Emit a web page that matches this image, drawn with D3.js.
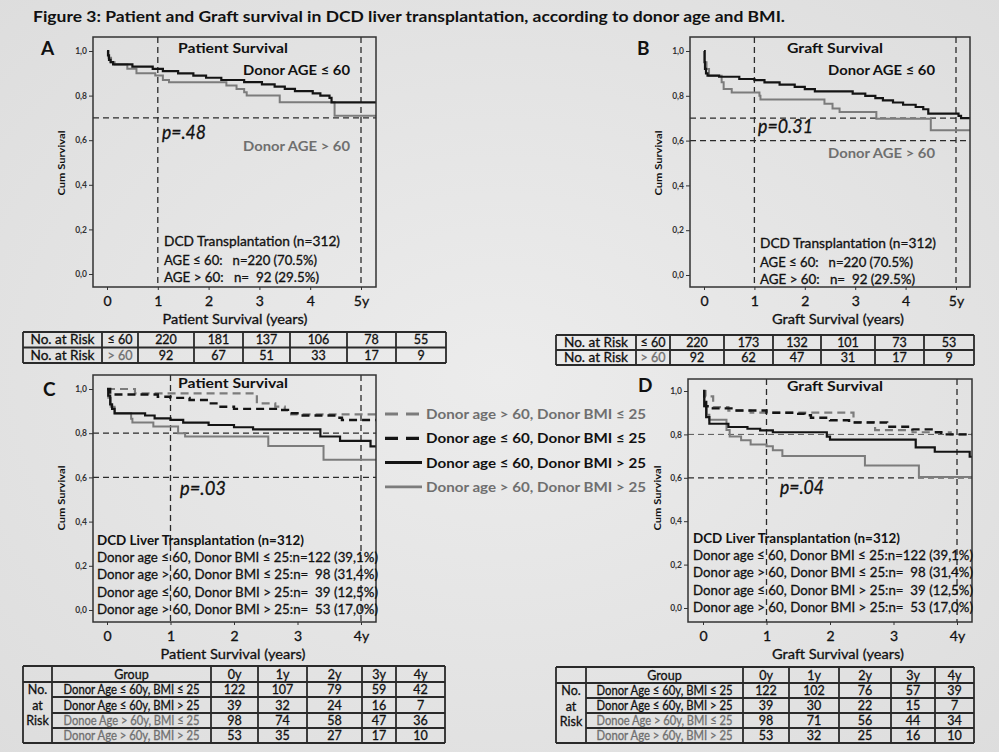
<!DOCTYPE html>
<html>
<head>
<meta charset="utf-8">
<script src="https://cdn.jsdelivr.net/npm/d3@7"></script>
<style>
  body { margin: 0; background: #e4e4e4; }
  svg { display: block; font-family: Lato, "Open Sans", sans-serif; }
</style>
</head>
<body>
<div id="chart"></div>
<script>
// ---- Data ----
// Kaplan-Meier steps: [years, cumulative survival]
const patientAgeLe60 = [[0,1],[0.02,0.98],[0.04,0.96],[0.07,0.95],[0.12,0.94],[0.5,0.93],[0.9,0.92],[1.1,0.91],[1.4,0.90],[1.7,0.89],[1.95,0.88],[2.25,0.87],[2.7,0.86],[3.05,0.85],[3.3,0.84],[3.5,0.83],[3.7,0.82],[4.05,0.81],[4.2,0.80],[4.38,0.79],[4.42,0.77]];
const patientAgeGt60 = [[0,1],[0.03,0.97],[0.08,0.95],[0.15,0.94],[0.4,0.92],[0.58,0.90],[0.95,0.89],[1.1,0.87],[1.22,0.86],[2.35,0.845],[2.55,0.83],[2.7,0.815],[2.75,0.80],[3.4,0.77],[4.48,0.71]];
const graftAgeLe60 = [[0,1],[0.01,0.95],[0.02,0.92],[0.04,0.90],[0.07,0.89],[0.3,0.885],[0.7,0.875],[1.0,0.87],[1.2,0.86],[1.5,0.85],[1.8,0.84],[2.0,0.83],[2.2,0.82],[2.95,0.81],[3.2,0.80],[3.4,0.79],[3.55,0.78],[3.75,0.77],[3.95,0.76],[4.2,0.75],[4.35,0.74],[4.45,0.72],[5.05,0.71],[5.1,0.70]];
const graftAgeGt60 = [[0,1],[0.02,0.95],[0.05,0.92],[0.1,0.89],[0.35,0.86],[0.39,0.83],[0.55,0.815],[1.1,0.80],[1.12,0.783],[2.39,0.765],[2.55,0.743],[2.69,0.728],[3.42,0.698],[4.5,0.646]];

const patLe60Bmi25 = [[0,1],[0.05,0.975],[0.8,0.965],[1.0,0.96],[1.3,0.95],[1.6,0.935],[1.75,0.92],[2.0,0.91],[2.7,0.905],[2.85,0.89],[3.0,0.88],[3.6,0.87],[3.7,0.86]];
const patGt60Bmi25 = [[0,1],[0.44,0.98],[2.36,0.935],[2.65,0.92],[2.8,0.905],[2.9,0.885]];
const patLe60BmiGt25 = [[0,1],[0.02,0.97],[0.05,0.93],[0.08,0.91],[0.12,0.89],[0.6,0.88],[0.75,0.867],[1.0,0.86],[1.2,0.848],[1.6,0.837],[2.0,0.827],[2.3,0.817],[3.36,0.785],[3.67,0.765],[4.15,0.74]];
const patGt60BmiGt25 = [[0,1],[0.02,0.96],[0.06,0.92],[0.12,0.89],[0.38,0.865],[0.4,0.848],[0.73,0.83],[1.12,0.80],[1.23,0.785],[2.54,0.742],[3.41,0.68]];

const grfLe60Bmi25 = [[0,1],[0.02,0.95],[0.05,0.93],[0.1,0.92],[0.5,0.91],[1.0,0.90],[1.5,0.895],[1.6,0.888],[1.7,0.877],[2.0,0.865],[2.3,0.855],[2.9,0.835],[3.3,0.823],[3.6,0.81],[3.75,0.80]];
const grfGt60Bmi25 = [[0,1],[0.04,0.975],[0.16,0.926],[0.4,0.91],[0.75,0.90],[2.37,0.857],[2.71,0.82],[3.3,0.81],[3.9,0.80]];
const grfLe60BmiGt25 = [[0,1],[0.02,0.93],[0.05,0.88],[0.1,0.849],[0.4,0.834],[0.7,0.826],[0.9,0.819],[1.1,0.81],[1.95,0.79],[2.0,0.776],[3.35,0.74],[3.65,0.72],[4.2,0.697]];
const grfGt60BmiGt25 = [[0,1],[0.02,0.93],[0.06,0.89],[0.1,0.868],[0.37,0.82],[0.42,0.79],[0.6,0.773],[0.75,0.754],[1.0,0.745],[1.1,0.727],[1.25,0.70],[2.55,0.657],[3.4,0.604]];

const yTicks = [0, 0.2, 0.4, 0.6, 0.8, 1.0];
const xTicks5 = [0, 1, 2, 3, 4, 5];
const xLabels5 = ["0", "1", "2", "3", "4", "5y"];
const xTicks4 = [0, 1, 2, 3, 4];
const xLabels4 = ["0", "1", "2", "3", "4y"];

// numbers at risk
const riskYears = ["0y", "1y", "2y", "3y", "4y"];
const patientRiskLe60 = [220, 181, 137, 106, 78, 55];
const patientRiskGt60 = [92, 67, 51, 33, 17, 9];
const graftRiskLe60 = [220, 173, 132, 101, 73, 53];
const graftRiskGt60 = [92, 62, 47, 31, 17, 9];

const groupNames = ["Donor Age \u2264 60y, BMI \u2264 25", "Donor Age \u2264 60y, BMI > 25", "Donoe Age > 60y, BMI \u2264 25", "Donor Age > 60y, BMI > 25"];
const patientRiskGroups = [[122, 107, 79, 59, 42], [39, 32, 24, 16, 7], [98, 74, 58, 47, 36], [53, 35, 27, 17, 10]];
const graftRiskGroups = [[122, 102, 76, 57, 39], [39, 30, 22, 15, 7], [98, 71, 56, 44, 34], [53, 32, 25, 16, 10]];

const legendLabels = ["Donor age > 60, Donor BMI \u2264 25", "Donor age \u2264 60, Donor BMI \u2264 25", "Donor age \u2264 60, Donor BMI > 25", "Donor age > 60, Donor BMI > 25"];
const cohortLines = ["Donor age \u2264 60, Donor BMI \u2264 25:n=122 (39,1%)", "Donor age > 60, Donor BMI \u2264 25:n=  98 (31,4%)", "Donor age \u2264 60, Donor BMI > 25:n=  39 (12,5%)", "Donor age > 60, Donor BMI > 25:n=  53 (17,0%)"];

// ---- Styles ----
const INK = "#111", GREY = "#6f6f6f";
const st = {
  black: { stroke: "#141414", width: 2.2 },
  gray: { stroke: "#7c7c7c", width: 2 },
  grayDash: { stroke: "#7c7c7c", width: 2.2, dash: "8,5" },
  blackDash: { stroke: "#141414", width: 2.4, dash: "8,5" }
};

const W = 999, H = 752;
const svg = d3.select("#chart").append("svg").attr("width", W).attr("height", H);
const defs = svg.append("defs");
const grad = defs.append("radialGradient").attr("id", "bg").attr("cx", "50%").attr("cy", "50%").attr("r", "72%");
grad.append("stop").attr("offset", "0%").attr("stop-color", "#ececec");
grad.append("stop").attr("offset", "100%").attr("stop-color", "#dddddd");
svg.append("rect").attr("width", W).attr("height", H).attr("fill", "url(#bg)");

function addText(g, o) {
  const fill = o.fill || INK;
  const t = g.append("text")
    .attr("x", o.x).attr("y", o.y)
    .attr("font-size", o.size || 13)
    .attr("font-weight", o.bold ? "bold" : null)
    .attr("font-style", o.italic ? "italic" : null)
    .attr("fill", fill)
    .style("white-space", "pre")
    .text(o.t);
  // regular text in the scan looks heavier than Lato regular
  if (!o.bold) t.attr("stroke", fill).attr("stroke-width", 0.3);
  if (o.anchor) t.attr("text-anchor", o.anchor);
  if (o.w) t.attr("textLength", o.w).attr("lengthAdjust", "spacingAndGlyphs");
  return t;
}

// title
addText(svg, { t: "Figure 3: Patient and Graft survival in DCD liver transplantation, according to donor age and BMI.", x: 33, y: 22, size: 15, bold: true, w: 752 });

function drawPanel(p) {
  const g = svg.append("g");
  const f = p.frame;
  const x = d3.scaleLinear().domain(p.xDomain).range(p.xRange);
  const y = d3.scaleLinear().domain([0, 1]).range(p.yRange);
  const clipId = "clip" + p.id;
  defs.append("clipPath").attr("id", clipId).append("rect")
    .attr("x", f.x0).attr("y", f.y0).attr("width", f.x1 - f.x0).attr("height", f.y1 - f.y0);
  const inner = g.append("g").attr("clip-path", `url(#${clipId})`);

  // reference lines
  p.hRefs.forEach(r => {
    inner.append("line")
      .attr("x1", f.x0).attr("x2", f.x1).attr("y1", y(r.v)).attr("y2", y(r.v))
      .attr("stroke", r.c || "#2b2b2b").attr("stroke-width", r.w || 1.3)
      .attr("stroke-dasharray", "6,4");
  });
  p.vRefs.forEach(v => {
    inner.append("line")
      .attr("x1", x(v)).attr("x2", x(v)).attr("y1", f.y0).attr("y2", f.y1)
      .attr("stroke", "#2b2b2b").attr("stroke-width", 1.3)
      .attr("stroke-dasharray", "6,4");
  });

  // survival curves
  const xEnd = x.invert(f.x1 + 2);
  const line = d3.line().x(d => x(d[0])).y(d => y(d[1])).curve(d3.curveStepAfter);
  p.series.forEach(s => {
    const pts = s.data.concat([[xEnd, s.data[s.data.length - 1][1]]]);
    inner.append("path")
      .attr("d", line(pts))
      .attr("fill", "none")
      .attr("stroke", s.style.stroke)
      .attr("stroke-width", s.style.width)
      .attr("stroke-dasharray", s.style.dash || null);
  });

  // frame
  g.append("rect")
    .attr("x", f.x0).attr("y", f.y0).attr("width", f.x1 - f.x0).attr("height", f.y1 - f.y0)
    .attr("fill", "none").attr("stroke", "#333").attr("stroke-width", 1.5);

  // y axis
  const ya = g.append("g").attr("transform", `translate(${f.x0},0)`)
    .call(d3.axisLeft(y).tickValues(yTicks).tickFormat(d => d.toFixed(1).replace(".", ",")).tickSize(4).tickPadding(2));
  ya.attr("font-family", null);
  ya.select(".domain").remove();
  ya.selectAll("line").attr("stroke", "#333");
  ya.selectAll("text").attr("font-size", 8.5).attr("font-weight", "bold").attr("fill", "#333");

  // x axis
  const xa = g.append("g").attr("transform", `translate(0,${f.y1})`)
    .call(d3.axisBottom(x).tickValues(p.xTicks).tickFormat((d, i) => p.xLabels[i]).tickSize(3).tickPadding(6));
  xa.attr("font-family", null);
  xa.select(".domain").remove();
  xa.selectAll("line").attr("stroke", "#333");
  xa.selectAll("text").attr("font-size", 14).attr("fill", INK)
    .attr("stroke", INK).attr("stroke-width", 0.3);

  // titles
  addText(g, Object.assign({ size: 13.5, anchor: "middle" }, p.xTitle));
  g.append("text")
    .attr("transform", `translate(${p.yTitle.x},${p.yTitle.y}) rotate(-90)`)
    .attr("text-anchor", "middle").attr("dominant-baseline", "central")
    .attr("font-size", 10).attr("font-weight", "bold").attr("fill", INK)
    .attr("textLength", 65).attr("lengthAdjust", "spacingAndGlyphs")
    .text("Cum Survival");
  addText(g, { t: p.id, x: p.letter.x, y: p.letter.y, size: 19, bold: true });
  p.texts.forEach(o => addText(g, o));
}

const panels = [
  {
    id: "A",
    frame: { x0: 93, x1: 376, y0: 37, y1: 287 },
    xDomain: [0, 5], xRange: [107, 361], yRange: [274, 51],
    xTicks: xTicks5, xLabels: xLabels5,
    hRefs: [{ v: 0.7 }], vRefs: [1, 5],
    series: [{ data: patientAgeGt60, style: st.gray }, { data: patientAgeLe60, style: st.black }],
    letter: { x: 41, y: 55 }, yTitle: { x: 61, y: 163 },
    xTitle: { t: "Patient Survival (years)", x: 235, y: 324, w: 145 },
    texts: [
      { t: "Patient Survival", x: 178, y: 53, size: 14, bold: true, w: 110 },
      { t: "Donor AGE \u2264 60", x: 243, y: 75, size: 14, bold: true, w: 107 },
      { t: "p=.48", x: 162, y: 139, size: 19, italic: true, w: 44 },
      { t: "Donor AGE > 60", x: 243, y: 151, size: 14, bold: true, fill: GREY, w: 107 },
      { t: "DCD Transplantation (n=312)", x: 164, y: 246, size: 13, w: 176 },
      { t: "AGE \u2264 60:   n=220 (70.5%)", x: 164, y: 265, size: 12.5, w: 153 },
      { t: "AGE > 60:   n=  92 (29.5%)", x: 164, y: 282, size: 12.5, w: 155 }
    ]
  },
  {
    id: "B",
    frame: { x0: 690, x1: 970, y0: 37, y1: 287 },
    xDomain: [0, 5], xRange: [704, 956], yRange: [275, 51],
    xTicks: xTicks5, xLabels: xLabels5,
    hRefs: [{ v: 0.7 }, { v: 0.6 }], vRefs: [1, 5],
    series: [{ data: graftAgeGt60, style: st.gray }, { data: graftAgeLe60, style: st.black }],
    letter: { x: 637, y: 55 }, yTitle: { x: 658, y: 163 },
    xTitle: { t: "Graft Survival (years)", x: 838, y: 324, w: 132 },
    texts: [
      { t: "Graft Survival", x: 787, y: 53, size: 14, bold: true, w: 96 },
      { t: "Donor AGE \u2264 60", x: 828, y: 75, size: 14, bold: true, w: 107 },
      { t: "p=0.31", x: 758, y: 133, size: 19, italic: true, w: 55 },
      { t: "Donor AGE > 60", x: 828, y: 158, size: 14, bold: true, fill: GREY, w: 107 },
      { t: "DCD Transplantation (n=312)", x: 760, y: 248, size: 13, w: 176 },
      { t: "AGE \u2264 60:   n=220 (70.5%)", x: 760, y: 267, size: 12.5, w: 153 },
      { t: "AGE > 60:   n=  92 (29.5%)", x: 760, y: 284, size: 12.5, w: 155 }
    ]
  },
  {
    id: "C",
    frame: { x0: 93, x1: 376, y0: 375, y1: 622 },
    xDomain: [0, 4], xRange: [107, 361], yRange: [610, 389],
    xTicks: xTicks4, xLabels: xLabels4,
    hRefs: [{ v: 0.8 }, { v: 0.6 }], vRefs: [1, 4],
    series: [
      { data: patGt60BmiGt25, style: st.gray },
      { data: patLe60BmiGt25, style: st.black },
      { data: patGt60Bmi25, style: st.grayDash },
      { data: patLe60Bmi25, style: st.blackDash }
    ],
    letter: { x: 43, y: 396 }, yTitle: { x: 61, y: 498 },
    xTitle: { t: "Patient Survival (years)", x: 233, y: 659, w: 145 },
    texts: [
      { t: "Patient Survival", x: 178, y: 388, size: 14, bold: true, w: 110 },
      { t: "p=.03", x: 180, y: 495, size: 19, italic: true, w: 46 },
      { t: "DCD Liver Transplantation (n=312)", x: 97, y: 545, size: 13, bold: true, w: 207 }
    ].concat(cohortLines.map((t, i) => ({ t, x: 97, y: 562 + i * 17.3, size: 14, w: 281 })))
  },
  {
    id: "D",
    frame: { x0: 688, x1: 972, y0: 379, y1: 622 },
    xDomain: [0, 4], xRange: [703, 957], yRange: [608, 391],
    xTicks: xTicks4, xLabels: xLabels4,
    hRefs: [{ v: 0.8, c: "#555", w: 1 }, { v: 0.6 }], vRefs: [1, 4],
    series: [
      { data: grfGt60BmiGt25, style: st.gray },
      { data: grfLe60BmiGt25, style: st.black },
      { data: grfGt60Bmi25, style: st.grayDash },
      { data: grfLe60Bmi25, style: st.blackDash }
    ],
    letter: { x: 638, y: 392 }, yTitle: { x: 657, y: 498 },
    xTitle: { t: "Graft Survival (years)", x: 838, y: 659, w: 132 },
    texts: [
      { t: "Graft Survival", x: 787, y: 391, size: 14, bold: true, w: 96 },
      { t: "p=.04", x: 780, y: 494, size: 19, italic: true, w: 44 },
      { t: "DCD Liver Transplantation (n=312)", x: 693, y: 543, size: 13, bold: true, w: 207 }
    ].concat(cohortLines.map((t, i) => ({ t, x: 693, y: 560 + i * 17.3, size: 14, w: 280 })))
  }
];

panels.forEach(drawPanel);

// ---- Legend between C and D ----
const legendStyles = [st.grayDash, st.blackDash, st.black, st.gray];
const legend = svg.append("g");
legendLabels.forEach((lab, i) => {
  const cy = 414 + i * 24.3;
  const s = legendStyles[i];
  legend.append("line")
    .attr("x1", 385).attr("x2", 422).attr("y1", cy).attr("y2", cy)
    .attr("stroke", s.stroke).attr("stroke-width", s.width + 0.8)
    .attr("stroke-dasharray", s.dash ? "13,8" : null);
  addText(legend, { t: lab, x: 426, y: cy + 5, size: 14, bold: true, fill: s.stroke === "#141414" ? INK : GREY, w: 220 });
});

// ---- Number-at-risk tables ----
function gridLines(g, x1, x2, y1, y2) {
  g.append("line").attr("x1", x1).attr("x2", x2).attr("y1", y1).attr("y2", y2)
    .attr("stroke", "#2a2a2a").attr("stroke-width", 1.8);
}

function cellText(g, t, xa, xb, ya, yb, fill, w) {
  const o = { t: String(t), x: (xa + xb) / 2, y: (ya + yb) / 2 + 4.5, size: 12.5, anchor: "middle", fill: fill || INK };
  if (w) o.w = w;
  addText(g, o);
}

function drawSimpleTable(cols, rows, le60, gt60) {
  const g = svg.append("g");
  const data = [["No. at Risk", "\u2264 60"].concat(le60), ["No. at Risk", "> 60"].concat(gt60)];
  rows.forEach(r => gridLines(g, cols[0], cols[cols.length - 1], r, r));
  cols.forEach(c => gridLines(g, c, c, rows[0], rows[rows.length - 1]));
  data.forEach((row, ri) => {
    row.forEach((v, ci) => {
      const fill = (ci === 1 && ri === 1) ? GREY : INK;
      cellText(g, v, cols[ci], cols[ci + 1], rows[ri], rows[ri + 1], fill, ci === 0 ? 64 : null);
    });
  });
}

function drawGroupTable(cols, rows, values) {
  const g = svg.append("g");
  const last = cols.length - 1;
  // outer + header lines
  gridLines(g, cols[0], cols[last], rows[0], rows[0]);
  gridLines(g, cols[0], cols[last], rows[1], rows[1]);
  gridLines(g, cols[0], cols[last], rows[rows.length - 1], rows[rows.length - 1]);
  for (let r = 2; r < rows.length - 1; r++) gridLines(g, cols[1], cols[last], rows[r], rows[r]);
  cols.forEach(c => gridLines(g, c, c, rows[0], rows[rows.length - 1]));
  // header
  cellText(g, "Group", cols[1], cols[2], rows[0], rows[1]);
  riskYears.forEach((t, i) => cellText(g, t, cols[i + 2], cols[i + 3], rows[0], rows[1]));
  // merged first column
  ["No.", "at", "Risk"].forEach((t, i) => {
    addText(g, { t, x: (cols[0] + cols[1]) / 2, y: rows[1] + 12 + i * 15.5, size: 12.5, anchor: "middle" });
  });
  values.forEach((row, ri) => {
    const fill = ri < 2 ? INK : GREY;
    cellText(g, groupNames[ri], cols[1], cols[2], rows[ri + 1], rows[ri + 2], fill, 136);
    row.forEach((v, ci) => cellText(g, v, cols[ci + 2], cols[ci + 3], rows[ri + 1], rows[ri + 2]));
  });
}

drawSimpleTable([23, 102, 138, 194, 243, 290, 347, 396, 446], [332, 347.5, 363], patientRiskLe60, patientRiskGt60);
drawSimpleTable([556, 636, 670, 724, 773, 821, 875, 924, 974], [335, 350, 365], graftRiskLe60, graftRiskGt60);
drawGroupTable([23, 52, 211, 258, 307, 362, 396, 445], [666, 682, 697, 713, 728, 743], patientRiskGroups);
drawGroupTable([556, 586, 743, 789, 839, 891, 935, 974], [667, 683, 698, 713, 728, 743], graftRiskGroups);
</script>
</body>
</html>
